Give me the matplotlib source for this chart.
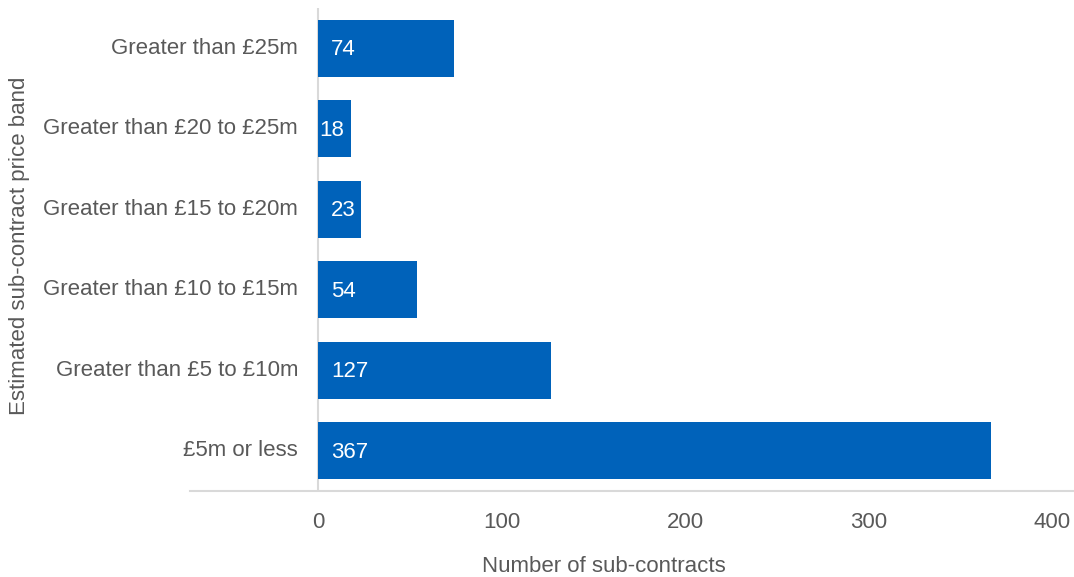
import matplotlib.pyplot as plt

plt.rcParams['font.family'] = ['Liberation Sans', 'DejaVu Sans']

bands = ["£5m or less", "Greater than £5 to £10m", "Greater than £10 to £15m",
         "Greater than £15 to £20m", "Greater than £20 to £25m", "Greater than £25m"]
counts = [367, 127, 54, 23, 18, 74]
xticks = [0, 100, 200, 300, 400]

bar_col = "#0062BA"
txt_col = "#595959"
line_col = "#D9D9D9"
fs = 16

fig = plt.figure(figsize=(10.74, 5.77), dpi=100)
ax = fig.add_axes([190/1074, 1 - 491/577, 884/1074, 483/577])

ypos = list(range(len(bands)))
ax.barh(ypos, counts, height=0.71, color=bar_col, zorder=2)

# value labels sit inside the bar near its base
for y, v in zip(ypos, counts):
    x = 7 if v >= 20 else 0.3
    ax.text(x, y - 0.02, str(v), color="white", fontsize=fs, ha="left", va="center", zorder=3)

# category names sit just left of the zero line
for y, name in zip(ypos, bands):
    ax.text(-11, y, name, color=txt_col, fontsize=fs, ha="right", va="center")

ax.set_xlim(-70, 412)
ax.set_ylim(-0.5, 5.5)
ax.set_yticks([])
ax.set_xticks(xticks)
ax.set_xticklabels([str(t) for t in xticks])
ax.tick_params(axis="x", length=0, pad=15, labelsize=fs, labelcolor=txt_col)

for s in ["top", "right", "left"]:
    ax.spines[s].set_visible(False)
ax.spines["bottom"].set_color(line_col)
ax.spines["bottom"].set_linewidth(1.5)
ax.axvline(0, color=line_col, linewidth=1.5, zorder=1)

fig.text(604/1074, 1 - 566/577, "Number of sub-contracts", color=txt_col,
         fontsize=fs, ha="center", va="center")
fig.text(20/1074, 1 - 246/577, "Estimated sub-contract price band", color=txt_col,
         fontsize=fs, ha="center", va="center", rotation=90)

fig.savefig("out.png", dpi=100)
